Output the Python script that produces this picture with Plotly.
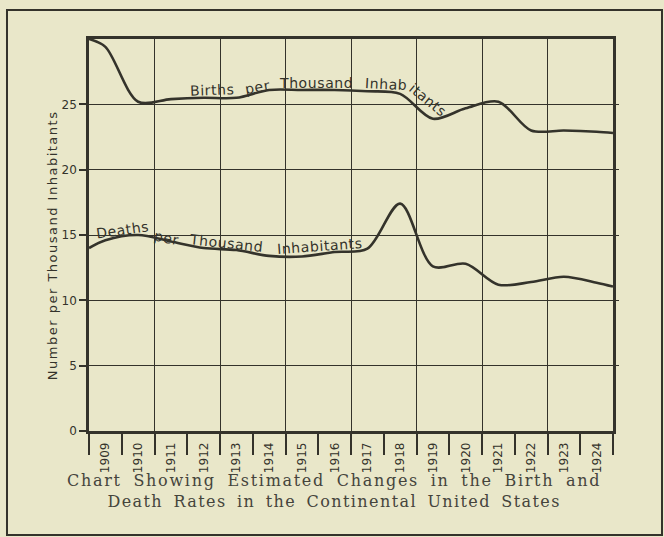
import plotly.graph_objects as go

# ---- data ----
year_labels = ["1909", "1910", "1911", "1912", "1913", "1914", "1915", "1916",
               "1917", "1918", "1919", "1920", "1921", "1922", "1923", "1924"]
label_pos = [1909.5, 1910.5, 1911.5, 1912.5, 1913.5, 1914.5, 1915.5, 1916.5,
             1917.5, 1918.5, 1919.5, 1920.5, 1921.5, 1922.5, 1923.5, 1924.5]
curve_pos = [1909.0, 1909.5, 1910.5, 1911.5, 1912.5, 1913.5, 1914.5, 1915.5, 1916.5,
             1917.5, 1918.5, 1919.5, 1920.5, 1921.5, 1922.5, 1923.5, 1924.5, 1925.0]
births = [30.0, 29.4, 25.2, 25.4, 25.5, 25.5, 26.1, 26.1, 26.1,
          26.0, 25.8, 23.9, 24.7, 25.2, 23.0, 23.0, 22.9, 22.8]
deaths = [14.0, 14.6, 15.0, 14.5, 14.0, 13.85, 13.4, 13.35, 13.7,
          13.95, 17.4, 12.6, 12.8, 11.2, 11.4, 11.8, 11.35, 11.05]
y_ticks = [0, 5, 10, 15, 20, 25]
grid_years = [1911, 1913, 1915, 1917, 1919, 1921, 1923]

INK = "#34332b"
BG = "#e9e7c9"
HAND = "DejaVu Sans"

fig = go.Figure()
fig.add_trace(go.Scatter(x=curve_pos, y=births, mode="lines",
                         line=dict(color=INK, width=2.6, shape="spline", smoothing=0.9),
                         hoverinfo="skip", showlegend=False))
fig.add_trace(go.Scatter(x=curve_pos, y=deaths, mode="lines", xaxis="x2", yaxis="y2",
                         line=dict(color=INK, width=2.6, shape="spline", smoothing=0.9),
                         hoverinfo="skip", showlegend=False))

fig.update_layout(
    width=664, height=537,
    margin=dict(l=89, r=51, t=39, b=106),
    paper_bgcolor=BG, plot_bgcolor=BG,
    xaxis=dict(range=[1909, 1925], tickvals=label_pos, ticktext=year_labels,
               tickangle=-90, ticks="", showgrid=False, zeroline=False,
               showline=True, mirror=True, linecolor=INK, linewidth=2.6,
               tickfont=dict(family=HAND, size=12, color=INK),
               ticklabelstandoff=4,
               minor=dict(tick0=1909, dtick=1, ticks="outside", ticklen=21,
                          tickwidth=2, tickcolor=INK, showgrid=False)),
    yaxis=dict(range=[0, 30], tickvals=y_ticks, ticks="outside", ticklen=7,
               tickwidth=1.5, tickcolor=INK, showgrid=True, gridcolor=INK,
               gridwidth=1.3, zeroline=False, showline=True, mirror=True,
               linecolor=INK, linewidth=2.6,
               tickfont=dict(family=HAND, size=12, color=INK)),
    xaxis2=dict(overlaying="x", anchor="y2", range=[1909, 1925], tickvals=grid_years,
                showgrid=True, gridcolor=INK, gridwidth=1.3, showticklabels=False,
                ticks="", zeroline=False, showline=False),
    yaxis2=dict(overlaying="y", anchor="x2", side="right", range=[0, 30],
                tickvals=y_ticks[1:], ticks="outside", ticklen=5, tickwidth=1.3,
                tickcolor=INK, showticklabels=False, showgrid=False,
                zeroline=False, showline=False),
)

def ls(t, sp, ws=0):
    return f'<span style="letter-spacing:{sp}px;word-spacing:{ws}px">{t}</span>'

ann = []
# curve labels
for txt, x, y, ang in [("Births", 1912.76, 26.1, -2), ("per", 1914.16, 26.3, -10),
                       ("Thousand", 1915.93, 26.65, 0), ("Inhab", 1918.07, 26.55, 3),
                       ("itants", 1919.35, 25.3, 39)]:
    ann.append(dict(x=x, y=y, xref="x", yref="y", text=ls(txt, 0.6), showarrow=False,
                    xanchor="center", yanchor="middle",
                    textangle=ang, font=dict(family=HAND, size=14, color=INK)))
for txt, x, y, ang in [("Deaths", 1910.01, 15.35, -8), ("per", 1911.38, 14.75, 12),
                       ("Thousand", 1913.18, 14.35, 6), ("Inhabitants", 1916.05, 14.15, -4)]:
    ann.append(dict(x=x, y=y, xref="x", yref="y", text=ls(txt, 0.6), showarrow=False,
                    xanchor="center", yanchor="middle",
                    textangle=ang, font=dict(family=HAND, size=14, color=INK)))
# y-axis title
ann.append(dict(x=-0.0706, y=0.474, xref="paper", yref="paper", showarrow=False,
                xanchor="center", yanchor="middle",
                text=ls("Number per Thousand Inhabitants", 1.5), textangle=-90,
                font=dict(family=HAND, size=13, color=INK)))
# caption
ann.append(dict(x=0.4676, y=-0.153, xref="paper", yref="paper", showarrow=False,
                xanchor="center", yanchor="middle",
                text=ls("Chart Showing Estimated Changes in the Birth and", 1.7, 5)
                + "<br>" + ls("Death Rates in the Continental United States", 1.4, 4),
                font=dict(family="DejaVu Serif", size=16, color="#45443c")))
fig.update_layout(annotations=ann)

# outer frame
fig.add_shape(type="rect", xref="paper", yref="paper",
              x0=-0.1565, x1=1.0935, y0=-0.265, y1=1.074,
              line=dict(color=INK, width=2))

fig.write_html("out.html", config={"displayModeBar": False},
               post_script="document.body.style.margin='0';document.body.style.overflow='hidden';")
